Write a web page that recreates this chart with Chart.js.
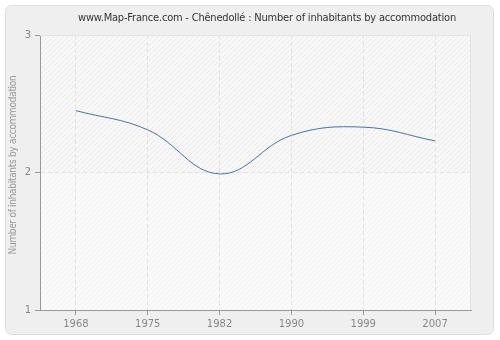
<!DOCTYPE html>
<html>
<head>
<meta charset="utf-8">
<script src="https://cdn.jsdelivr.net/npm/chart.js@4/dist/chart.umd.min.js"></script>
<style>
  html, body { margin: 0; padding: 0; background: #fff; }
  #wrap { width: 500px; height: 340px; }
</style>
</head>
<body>
<div id="wrap"><canvas id="chart" width="500" height="340"></canvas></div>
<script>
const years = ['1968', '1975', '1982', '1990', '1999', '2007'];
const inhabitants = [2.45, 2.31, 1.99, 2.27, 2.33, 2.23];
const yTicks = [1, 2, 3];

const titleText = 'www.Map-France.com - Chênedollé : Number of inhabitants by accommodation';
const yTitleText = 'Number of inhabitants by accommodation';
const fontFamily = '"DejaVu Sans", Verdana, sans-serif';

function hatch(bg, line) {
    const tile = document.createElement('canvas');
    tile.width = 5;
    tile.height = 5;
    const t = tile.getContext('2d');
    t.fillStyle = bg;
    t.fillRect(0, 0, 5, 5);
    t.strokeStyle = line;
    t.lineWidth = 1;
    t.beginPath();
    t.moveTo(-1, 6);
    t.lineTo(6, -1);
    t.moveTo(-1, 1);
    t.lineTo(1, -1);
    t.moveTo(4, 6);
    t.lineTo(6, 4);
    t.stroke();
    return tile;
}

// panel, hatched plot background and the titles
const backdrop = {
    id: 'backdrop',
    beforeDraw(chart) {
        const ctx = chart.ctx;
        const a = chart.chartArea;
        ctx.save();
        ctx.fillStyle = '#fff';
        ctx.fillRect(0, 0, chart.width, chart.height);

        ctx.beginPath();
        ctx.roundRect(5.5, 5.5, 488, 329, 6);
        ctx.fillStyle = '#efefef';
        ctx.fill();
        ctx.strokeStyle = '#dedede';
        ctx.lineWidth = 1;
        ctx.stroke();

        const mid = chart.scales.y.getPixelForValue(2);
        ctx.fillStyle = ctx.createPattern(hatch('#f8f8f8', '#eaeaea'), 'repeat');
        ctx.fillRect(a.left, a.top, a.right - a.left, mid - a.top);
        ctx.fillStyle = ctx.createPattern(hatch('#fafafa', '#f1f1f1'), 'repeat');
        ctx.fillRect(a.left, mid, a.right - a.left, a.bottom - mid);

        ctx.fillStyle = '#333';
        ctx.font = 'condensed 11px ' + fontFamily;
        ctx.letterSpacing = '-0.2px';
        ctx.textAlign = 'center';
        ctx.textBaseline = 'middle';
        ctx.fillText(titleText, 267, 18);

        ctx.translate(13, 165);
        ctx.rotate(-Math.PI / 2);
        ctx.fillStyle = '#999';
        ctx.font = 'condensed 10px ' + fontFamily;
        ctx.letterSpacing = '-0.3px';
        ctx.fillText(yTitleText, 0, 0);
        ctx.restore();
    },
    afterDatasetsDraw(chart) {
        const ctx = chart.ctx;
        const a = chart.chartArea;
        ctx.save();
        ctx.strokeStyle = '#e4e4e4';
        ctx.lineWidth = 1;
        ctx.beginPath();
        ctx.moveTo(a.left, a.top + 0.5);
        ctx.lineTo(a.right - 0.5, a.top + 0.5);
        ctx.lineTo(a.right - 0.5, a.bottom);
        ctx.stroke();
        ctx.restore();
    }
};

new Chart(document.getElementById('chart'), {
    type: 'line',
    data: {
        labels: years,
        datasets: [{
            data: inhabitants,
            borderColor: '#4a73a6',
            borderWidth: 1,
            pointRadius: 0,
            tension: 0.4,
            fill: false
        }]
    },
    options: {
        responsive: false,
        animation: false,
        layout: { padding: { left: 0, top: 35, right: 29, bottom: 0 } },
        plugins: {
            legend: { display: false },
            title: { display: false },
            tooltip: { enabled: false }
        },
        scales: {
            x: {
                offset: true,
                afterFit(scale) { scale.height = 30; },
                grid: {
                    offset: false,
                    color: '#e2e2e2',
                    tickColor: '#999',
                    tickLength: 5
                },
                border: { color: '#999', dash: [4, 3] },
                ticks: {
                    color: '#888',
                    font: { family: fontFamily, size: 10 },
                    padding: 3,
                    maxRotation: 0
                }
            },
            y: {
                min: 1,
                max: 3,
                afterFit(scale) { scale.width = 40; },
                afterBuildTicks(scale) { scale.ticks = yTicks.map(v => ({ value: v })); },
                grid: {
                    color: '#e2e2e2',
                    tickColor: '#999',
                    tickLength: 5
                },
                border: { color: '#999', dash: [4, 3] },
                ticks: {
                    color: '#888',
                    font: { family: fontFamily, size: 10 },
                    padding: 4
                }
            }
        }
    },
    plugins: [backdrop]
});
</script>
</body>
</html>
